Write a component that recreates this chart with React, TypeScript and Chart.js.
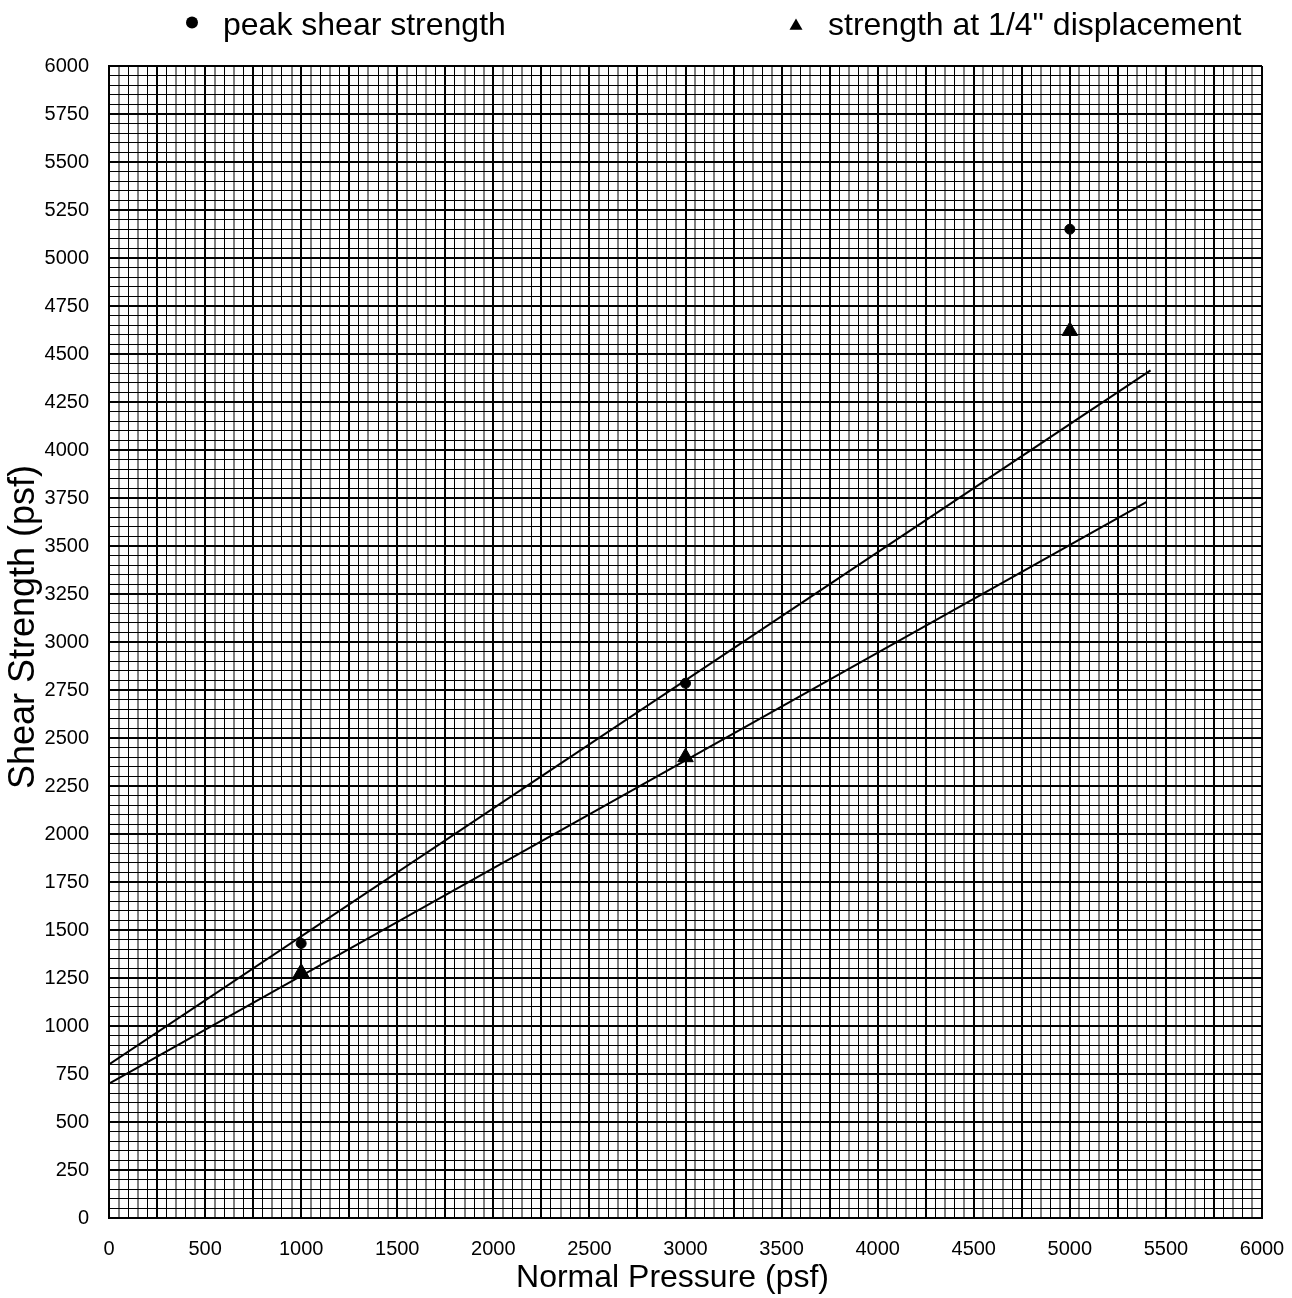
import React, { useEffect, useRef } from 'react';
import { Chart, registerables } from 'chart.js';

Chart.register(...registerables);

// ---- data ----
const seriesLabels = ['peak shear strength', 'strength at 1/4" displacement'];
const normalPressure = [1000, 3000, 5000];
const peakStrength = [1430, 2785, 5150];
const displacedStrength = [1278, 2400, 4620];
const peakFitX = [0, 5420];
const peakFitY = [800, 4415];
const dispFitX = [0, 5400];
const dispFitY = [700, 3730];
const xTickLabels = ['0', '500', '1000', '1500', '2000', '2500', '3000', '3500', '4000', '4500', '5000', '5500', '6000'];
const yTickLabels = ['0', '250', '500', '750', '1000', '1250', '1500', '1750', '2000', '2250', '2500', '2750', '3000', '3250', '3500', '3750', '4000', '4250', '4500', '4750', '5000', '5250', '5500', '5750', '6000'];
const xAxisTitle = 'Normal Pressure (psf)';
const yAxisTitle = 'Shear Strength (psf)';

const FONT = '"Liberation Sans", Arial, Helvetica, sans-serif';

const toPoints = (xs: number[], ys: number[]) => xs.map((x, i) => ({ x, y: ys[i] }));

// legend slot layout: [markerX, markerY, textX, baselineY]
const LEGEND_SLOTS = [
  [192, 22.5, 223, 35],
  [796, 26, 828, 35],
];

const spreadLegend = {
  id: 'spreadLegend',
  afterDraw(chart: any) {
    const ctx = chart.ctx as CanvasRenderingContext2D;
    ctx.save();
    ctx.font = `32px ${FONT}`;
    ctx.fillStyle = '#000';
    ctx.textBaseline = 'alphabetic';
    ctx.textAlign = 'left';
    const items = chart.data.datasets.filter((d: any) => d.label);
    items.forEach((ds: any, i: number) => {
      const slot = LEGEND_SLOTS[i];
      if (!slot) return;
      const [mx, my, tx, ty] = slot;
      ctx.beginPath();
      if (ds.pointStyle === 'triangle') {
        const r = 7.5;
        for (let k = 0; k < 3; k++) {
          const a = (k * 2 * Math.PI) / 3;
          const px = mx + Math.sin(a) * r;
          const py = my - Math.cos(a) * r;
          if (k === 0) ctx.moveTo(px, py);
          else ctx.lineTo(px, py);
        }
        ctx.closePath();
      } else {
        ctx.arc(mx, my, 6, 0, Math.PI * 2);
      }
      ctx.fill();
      ctx.fillText(ds.label, tx, ty);
    });
    ctx.restore();
  },
};

// axis titles, placed slightly off-centre as in the original sheet
const axisTitles = {
  id: 'axisTitles',
  afterDraw(chart: any) {
    const ctx = chart.ctx as CanvasRenderingContext2D;
    const area = chart.chartArea;
    ctx.save();
    ctx.fillStyle = '#000';
    ctx.textAlign = 'center';
    ctx.textBaseline = 'alphabetic';
    ctx.font = `32px ${FONT}`;
    ctx.fillText(xAxisTitle, (area.left + area.right) / 2 - 13, 1287);
    ctx.translate(34, (area.top + area.bottom) / 2 - 15);
    ctx.rotate(-Math.PI / 2);
    ctx.font = `36px ${FONT}`;
    ctx.fillText(yAxisTitle, 0, 0);
    ctx.restore();
  },
};

export default function App() {
  const canvasRef = useRef<HTMLCanvasElement>(null);

  useEffect(() => {
    document.body.style.margin = '0';
    const canvas = canvasRef.current;
    if (!canvas) return;
    Chart.defaults.font.family = FONT;

    const chart = new Chart(canvas, {
      type: 'scatter',
      data: {
        datasets: [
          {
            label: seriesLabels[0],
            data: toPoints(normalPressure, peakStrength),
            pointStyle: 'circle',
            pointRadius: 5,
            pointBorderWidth: 1,
            pointBackgroundColor: '#000',
            pointBorderColor: '#000',
            showLine: false,
          },
          {
            label: seriesLabels[1],
            data: toPoints(normalPressure, displacedStrength),
            pointStyle: 'triangle',
            pointRadius: 9,
            pointBorderWidth: 1,
            pointBackgroundColor: '#000',
            pointBorderColor: '#000',
            showLine: false,
          },
          {
            data: toPoints(peakFitX, peakFitY),
            showLine: true,
            pointRadius: 0,
            borderColor: '#000',
            borderWidth: 2,
          },
          {
            data: toPoints(dispFitX, dispFitY),
            showLine: true,
            pointRadius: 0,
            borderColor: '#000',
            borderWidth: 2,
          },
        ] as any,
      },
      options: {
        animation: false,
        responsive: false,
        devicePixelRatio: 1,
        events: [],
        layout: { padding: { top: 66, right: 30, bottom: 0, left: 0 } },
        plugins: {
          legend: { display: false },
          tooltip: { enabled: false },
        },
        scales: {
          x: {
            type: 'linear',
            min: 0,
            max: 6000,
            afterFit(scale: any) {
              scale.height = 80;
              scale.paddingLeft = 0;
              scale.paddingRight = 0;
            },
            ticks: {
              stepSize: 50,
              autoSkip: false,
              maxRotation: 0,
              minRotation: 0,
              padding: 19,
              color: '#000',
              font: { size: 20, family: FONT },
              callback: (v: any) => {
                const s = String(v);
                return xTickLabels.includes(s) ? s : '';
              },
            },
            grid: {
              drawTicks: false,
              color: (c: any) => {
                const v = c.tick ? c.tick.value : 0;
                if (v % 250 === 0) return '#000';
                return Math.round(v / 50) % 2 === 1 ? '#808080' : '#000';
              },
              lineWidth: (c: any) => {
                const v = c.tick ? c.tick.value : 0;
                if (v % 250 === 0) return 2;
                return Math.round(v / 50) % 2 === 1 ? 2 : 1;
              },
            },
            border: { display: true, color: '#000', width: 2 },
            title: { display: false, text: xAxisTitle },
          },
          y: {
            type: 'linear',
            min: 0,
            max: 6000,
            afterFit(scale: any) {
              scale.width = 109;
              scale.paddingTop = 0;
              scale.paddingBottom = 0;
            },
            ticks: {
              stepSize: 50,
              autoSkip: false,
              padding: 20,
              color: '#000',
              font: { size: 20, family: FONT },
              callback: (v: any) => {
                const s = String(v);
                return yTickLabels.includes(s) ? s : '';
              },
            },
            grid: {
              drawTicks: false,
              color: '#000',
              lineWidth: (c: any) => {
                const v = c.tick ? c.tick.value : 0;
                return v % 250 === 0 ? 2 : 1;
              },
            },
            border: { display: true, color: '#000', width: 2 },
            title: { display: false, text: yAxisTitle },
          },
        },
      },
      plugins: [spreadLegend, axisTitles],
    } as any);

    return () => chart.destroy();
  }, []);

  return (
    <div style={{ width: 1292, height: 1298 }}>
      <canvas ref={canvasRef} width={1292} height={1298} style={{ display: 'block' }} />
    </div>
  );
}
